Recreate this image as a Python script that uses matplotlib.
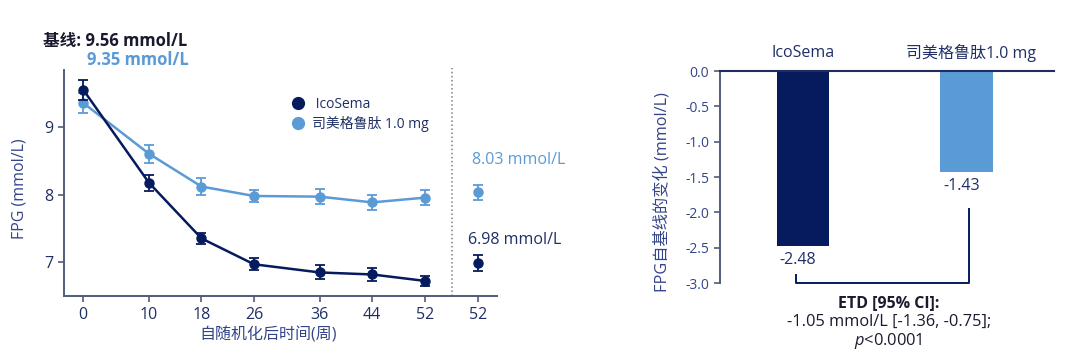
import numpy as np
import matplotlib
matplotlib.use("Agg")
import matplotlib.pyplot as plt
from matplotlib.lines import Line2D

plt.rcParams['font.family'] = ['Open Sans', 'Noto Sans CJK SC', 'DejaVu Sans']
plt.rcParams['mathtext.fontset'] = 'custom'
plt.rcParams['mathtext.it'] = 'Open Sans:italic'
plt.rcParams['mathtext.rm'] = 'Open Sans'

# data
weeks = [0, 10, 18, 26, 36, 44, 52]
ico = [9.555, 8.176, 7.35, 6.966, 6.845, 6.815, 6.72]
ico_err = [0.15, 0.12, 0.08, 0.087, 0.104, 0.10, 0.072]
sema = [9.36, 8.607, 8.12, 7.98, 7.97, 7.885, 7.955]
sema_err = [0.15, 0.135, 0.12, 0.087, 0.116, 0.11, 0.107]
ico_end, ico_end_err = 6.98, 0.117
sema_end, sema_end_err = 8.035, 0.11
xtick_pos = [0, 10, 18, 26, 36, 44, 52, 60.17]
xtick_lab = ["0", "10", "18", "26", "36", "44", "52", "52"]

groups = ["IcoSema", "司美格鲁肽1.0 mg"]
changes = [-2.48, -1.43]

dark = "#061b5e"
light = "#5b9bd5"
axcol = "#505c7c"
txt = "#1f2f66"
labcol = "#34448a"

fig = plt.figure(figsize=(10.65, 3.56), dpi=100)

# ---- left: FPG over time
ax = fig.add_axes([0.0601, 0.1694, 0.4069, 0.634])
eb = dict(marker='o', ms=6.5, capsize=3.6, elinewidth=1.3, capthick=1.3)
ax.errorbar(weeks, ico, yerr=ico_err, color=dark, lw=1.8, zorder=3, **eb)
ax.errorbar(weeks, sema, yerr=sema_err, color=light, lw=1.8, zorder=2, **eb)
ax.errorbar([60.17], [ico_end], yerr=[ico_end_err], color=dark, ls='none', **eb)
ax.errorbar([60.17], [sema_end], yerr=[sema_end_err], color=light, ls='none', **eb)
ax.axvline(56.15, color='#7a7f8c', ls=':', lw=1.1, ymax=1.01, clip_on=False)

ax.set_xlim(-2.94, 63.06)
ax.set_ylim(6.5, 9.85)
ax.set_xticks(xtick_pos)
ax.set_xticklabels(xtick_lab)
ax.set_yticks([7, 8, 9])
for s in ['top', 'right']:
    ax.spines[s].set_visible(False)
for s in ['left', 'bottom']:
    ax.spines[s].set_color(axcol)
    ax.spines[s].set_linewidth(1.4)
ax.tick_params(colors=axcol, labelcolor=txt, labelsize=11.5, length=4.3, width=1.2)
ax.set_xlabel("自随机化后时间(周)", fontsize=11.5, color=labcol)
ax.xaxis.set_label_coords(0.471, -0.139)
ax.set_ylabel("FPG (mmol/L)", fontsize=11.5, color=labcol)
ax.yaxis.set_label_coords(-0.085, 0.475)

handles = [Line2D([], [], color=dark, marker='o', ms=8.5, ls='none'),
           Line2D([], [], color=light, marker='o', ms=8.5, ls='none')]
leg = ax.legend(handles, [" IcoSema", "司美格鲁肽 1.0 mg"], loc='center left',
                bbox_to_anchor=(0.524, 0.803), frameon=False, fontsize=10,
                handlelength=1, handletextpad=0.5, labelspacing=0.3,
                borderpad=0, borderaxespad=0)
for t in leg.get_texts():
    t.set_color(txt)

fig.text(43 / 1065, 1 - 41 / 356, "基线: 9.56 mmol/L", fontsize=12, weight='bold',
         color='#1a1a2e', va='center', ha='left')
fig.text(87 / 1065, 1 - 60 / 356, "9.35 mmol/L", fontsize=12, weight='bold',
         color=light, va='center', ha='left')
ax.text(59.16, 8.513, "8.03 mmol/L", fontsize=11.5, color=light, va='center', ha='left',
        clip_on=False)
ax.text(58.64, 7.32, "6.98 mmol/L", fontsize=11.5, color=txt, va='center', ha='left',
        clip_on=False)

# ---- right: change from baseline
bx = fig.add_axes([0.676, 0.205, 0.3136, 0.5955])
bx.bar([0, 1], changes, width=0.32, color=[dark, light], zorder=2)
bx.set_xlim(-0.508, 1.535)
bx.set_ylim(-3.0, 0.0)
yt = np.arange(-3.0, 0.01, 0.5)
bx.set_yticks(yt)
bx.set_yticklabels([f"{v:.1f}" for v in yt])
bx.set_xticks([])
for s in ['right', 'bottom']:
    bx.spines[s].set_visible(False)
bx.spines['top'].set_color('#1e2c5e')
bx.spines['top'].set_linewidth(1.5)
bx.spines['left'].set_color(axcol)
bx.spines['left'].set_linewidth(1.4)
bx.tick_params(axis='y', colors=axcol, labelcolor=labcol, labelsize=10, length=4.3, width=1.2)
bx.set_ylabel("FPG自基线的变化 (mmol/L)", fontsize=11.7, color=labcol)
bx.yaxis.set_label_coords(-0.147, 0.43)

label_x = [0, 1.03]
for i, (g, v) in enumerate(zip(groups, changes)):
    bx.text(label_x[i], 0.26, g, ha='center', va='center', fontsize=11.5, color=txt,
            clip_on=False)
    bx.text(i - 0.03, v - 0.2, f"{v:.2f}", ha='center', va='center', fontsize=11.5,
            color=txt)

# bracket
bx.plot([-0.045, -0.045, 1.017, 1.017], [-2.885, -3.0, -3.0, -1.956], color=dark, lw=1.4,
        clip_on=False)
fig.text(889 / 1065, 1 - 303 / 356, "ETD [95% CI]:", fontsize=11.5, weight='bold',
         color='#1a1a2e', ha='center', va='center')
fig.text(889 / 1065, 1 - 322 / 356, "-1.05 mmol/L [-1.36, -0.75];", fontsize=11.8,
         color='#1a1a2e', ha='center', va='center')
fig.text(888 / 1065, 1 - 341 / 356, "$\\it{p}$<0.0001", fontsize=11.8,
         color='#1a1a2e', ha='center', va='center')

fig.savefig("out.png", dpi=100)
